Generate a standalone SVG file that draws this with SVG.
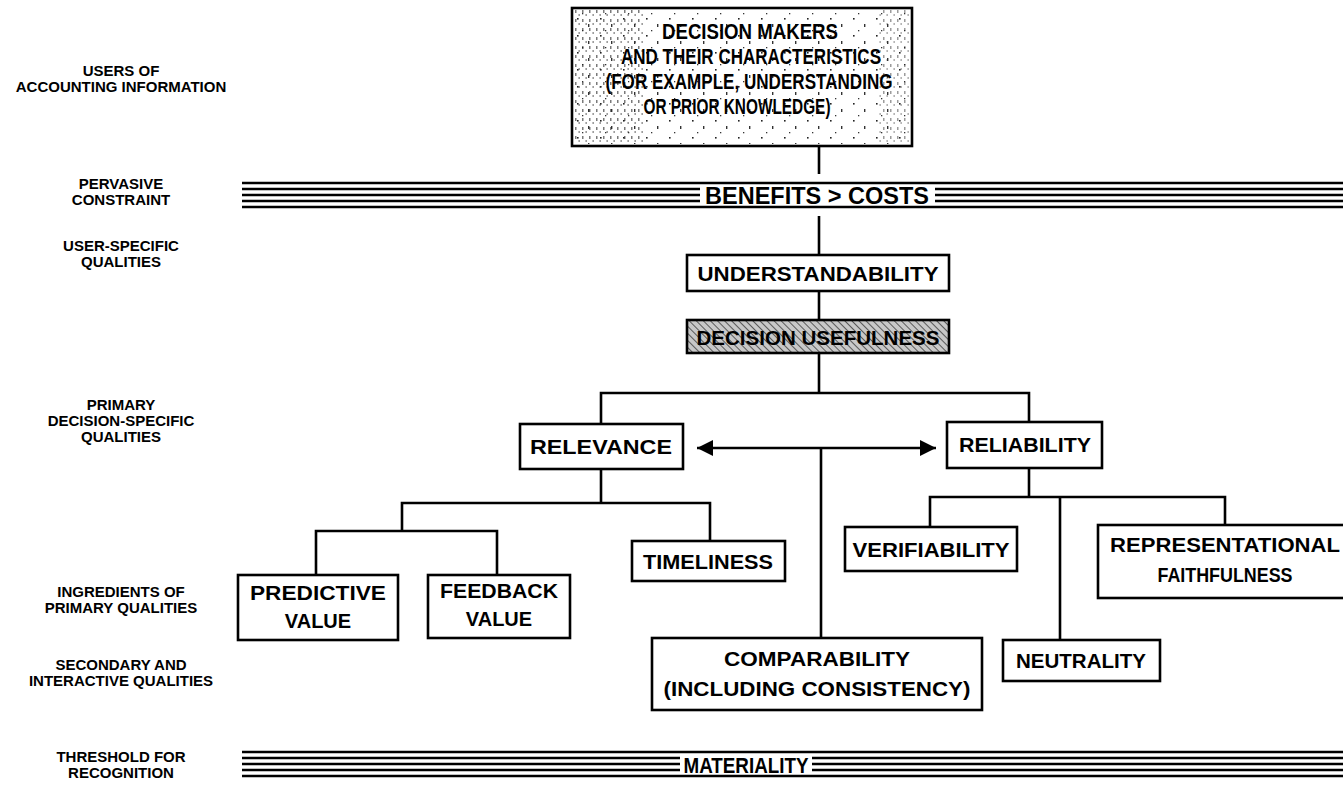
<svg xmlns="http://www.w3.org/2000/svg" width="1343" height="789" viewBox="0 0 1343 789">
<defs>
<pattern id="stip" width="23" height="17" patternUnits="userSpaceOnUse">
<rect x="2" y="1" width="1.6" height="1.6" fill="#222"/>
<rect x="13" y="7" width="1.4" height="3" fill="#333"/>
<rect x="7" y="13" width="1.3" height="1.3" fill="#333"/>
</pattern>
<pattern id="stipd" width="7" height="9" patternUnits="userSpaceOnUse">
<rect x="1" y="1" width="1.5" height="3" fill="#222"/>
<rect x="4.5" y="5" width="1.3" height="2" fill="#333"/>
</pattern>
<pattern id="hatch" width="5" height="5" patternUnits="userSpaceOnUse" patternTransform="rotate(-45)">
<rect width="5" height="5" fill="#c8c8c8"/>
<line x1="0" y1="0" x2="0" y2="5" stroke="#333" stroke-width="1.5"/>
</pattern>
<marker id="ah" viewBox="0 0 10 10" refX="10" refY="5" markerWidth="18" markerHeight="16" markerUnits="userSpaceOnUse" orient="auto-start-reverse">
<path d="M0,0 L10,5 L0,10 Z" fill="#000"/>
</marker>
</defs>
<style>
.box{fill:#fff;stroke:#000;stroke-width:2.6}
.t{font-family:"Liberation Sans",Arial,sans-serif;font-weight:bold;fill:#000;text-anchor:middle}
.bt{font-size:20px}
.tb{font-size:22px}
.lab{font-size:15px}
.ln{stroke:#000;stroke-width:2.6;fill:none}
.band{stroke:#000;stroke-width:2.4}
</style>
<rect width="1343" height="789" fill="#fff"/>

<g id="labels" class="t lab">
<text x="121" y="76">USERS OF</text>
<text x="121" y="92">ACCOUNTING INFORMATION</text>
<text x="121" y="189">PERVASIVE</text>
<text x="121" y="205">CONSTRAINT</text>
<text x="121" y="251">USER-SPECIFIC</text>
<text x="121" y="267">QUALITIES</text>
<text x="121" y="410">PRIMARY</text>
<text x="121" y="426">DECISION-SPECIFIC</text>
<text x="121" y="442">QUALITIES</text>
<text x="121" y="597">INGREDIENTS OF</text>
<text x="121" y="613">PRIMARY QUALITIES</text>
<text x="121" y="670">SECONDARY AND</text>
<text x="121" y="686">INTERACTIVE QUALITIES</text>
<text x="121" y="762">THRESHOLD FOR</text>
<text x="121" y="778">RECOGNITION</text>
</g>

<g id="connectors">
<line class="ln" x1="819" y1="146" x2="819" y2="174"/>
<line class="ln" x1="819" y1="216" x2="819" y2="255"/>
<line class="ln" x1="819" y1="291" x2="819" y2="320"/>
<polyline class="ln" points="601,424 601,393 1029,393 1029,422"/>
<line class="ln" x1="819" y1="353" x2="819" y2="393"/>
<line class="ln" x1="697" y1="448" x2="936" y2="448" marker-start="url(#ah)" marker-end="url(#ah)"/>
<line class="ln" x1="821" y1="448" x2="821" y2="638"/>
<line class="ln" x1="601" y1="469" x2="601" y2="503"/>
<polyline class="ln" points="402,531 402,503 710,503 710,541"/>
<polyline class="ln" points="316,575 316,531 497,531 497,575"/>
<line class="ln" x1="1029" y1="468" x2="1029" y2="497"/>
<polyline class="ln" points="930,527 930,497 1225,497 1225,525"/>
<line class="ln" x1="1060" y1="497" x2="1060" y2="640"/>
</g>

<g id="decision-makers">
<rect class="box" x="572" y="8" width="340" height="138"/>
<rect x="574" y="10" width="336" height="134" fill="url(#stip)"/>
<rect x="574" y="10" width="70" height="134" fill="url(#stipd)" opacity="0.6"/>
<rect x="878" y="10" width="32" height="134" fill="url(#stipd)" opacity="0.45"/>
<g class="t tb">
<text x="750" y="39" textLength="176" lengthAdjust="spacingAndGlyphs">DECISION MAKERS</text>
<text x="751" y="64" textLength="260" lengthAdjust="spacingAndGlyphs">AND THEIR CHARACTERISTICS</text>
<text x="749" y="89" textLength="287" lengthAdjust="spacingAndGlyphs">(FOR EXAMPLE, UNDERSTANDING</text>
<text x="737" y="114" textLength="187" lengthAdjust="spacingAndGlyphs">OR PRIOR KNOWLEDGE)</text>
</g>
</g>

<g id="benefits-costs">
<line class="band" x1="242" y1="183" x2="1343" y2="183"/>
<line class="band" x1="242" y1="189" x2="700" y2="189"/>
<line class="band" x1="242" y1="195" x2="700" y2="195"/>
<line class="band" x1="242" y1="201" x2="700" y2="201"/>
<line class="band" x1="935" y1="189" x2="1343" y2="189"/>
<line class="band" x1="935" y1="195" x2="1343" y2="195"/>
<line class="band" x1="935" y1="201" x2="1343" y2="201"/>
<line class="band" x1="242" y1="207" x2="1343" y2="207"/>
<text class="t" x="817" y="204" font-size="23" textLength="224" lengthAdjust="spacingAndGlyphs">BENEFITS &gt; COSTS</text>
</g>

<g id="understandability">
<rect class="box" x="687" y="255" width="262" height="36"/>
<text class="t bt" x="818" y="281" textLength="241" lengthAdjust="spacingAndGlyphs">UNDERSTANDABILITY</text>
</g>

<g id="decision-usefulness">
<rect x="687" y="320" width="262" height="33" fill="url(#hatch)" stroke="#000" stroke-width="2.6"/>
<text class="t bt" x="818" y="345" textLength="243" lengthAdjust="spacingAndGlyphs">DECISION USEFULNESS</text>
</g>

<g id="relevance">
<rect class="box" x="520" y="424" width="163" height="45"/>
<text class="t bt" x="601" y="454" textLength="142" lengthAdjust="spacingAndGlyphs">RELEVANCE</text>
</g>

<g id="reliability">
<rect class="box" x="947" y="422" width="155" height="46"/>
<text class="t bt" x="1025" y="452" textLength="132" lengthAdjust="spacingAndGlyphs">RELIABILITY</text>
</g>

<g id="predictive-value">
<rect class="box" x="238" y="575" width="160" height="65"/>
<text class="t bt" x="318" y="600" textLength="136" lengthAdjust="spacingAndGlyphs">PREDICTIVE</text>
<text class="t bt" x="318" y="628">VALUE</text>
</g>

<g id="feedback-value">
<rect class="box" x="428" y="575" width="142" height="63"/>
<text class="t bt" x="499" y="598" textLength="118" lengthAdjust="spacingAndGlyphs">FEEDBACK</text>
<text class="t bt" x="499" y="626">VALUE</text>
</g>

<g id="timeliness">
<rect class="box" x="632" y="541" width="153" height="40"/>
<text class="t bt" x="708" y="569" textLength="130" lengthAdjust="spacingAndGlyphs">TIMELINESS</text>
</g>

<g id="verifiability">
<rect class="box" x="845" y="527" width="172" height="44"/>
<text class="t bt" x="931" y="557" textLength="157" lengthAdjust="spacingAndGlyphs">VERIFIABILITY</text>
</g>

<g id="representational-faithfulness">
<rect class="box" x="1098" y="525" width="252" height="73"/>
<text class="t bt" x="1225" y="552" textLength="230" lengthAdjust="spacingAndGlyphs">REPRESENTATIONAL</text>
<text class="t bt" x="1225" y="582" textLength="135" lengthAdjust="spacingAndGlyphs">FAITHFULNESS</text>
</g>

<g id="comparability">
<rect class="box" x="652" y="638" width="330" height="72"/>
<text class="t bt" x="817" y="666" textLength="186" lengthAdjust="spacingAndGlyphs">COMPARABILITY</text>
<text class="t bt" x="817" y="696" textLength="307" lengthAdjust="spacingAndGlyphs">(INCLUDING CONSISTENCY)</text>
</g>

<g id="neutrality">
<rect class="box" x="1003" y="640" width="157" height="41"/>
<text class="t bt" x="1081" y="668" textLength="130" lengthAdjust="spacingAndGlyphs">NEUTRALITY</text>
</g>

<g id="materiality">
<line class="band" x1="242" y1="752" x2="1343" y2="752"/>
<line class="band" x1="242" y1="758" x2="680" y2="758"/>
<line class="band" x1="242" y1="764" x2="680" y2="764"/>
<line class="band" x1="242" y1="770" x2="680" y2="770"/>
<line class="band" x1="812" y1="758" x2="1343" y2="758"/>
<line class="band" x1="812" y1="764" x2="1343" y2="764"/>
<line class="band" x1="812" y1="770" x2="1343" y2="770"/>
<line class="band" x1="242" y1="776" x2="1343" y2="776"/>
<text class="t" x="746" y="773" font-size="22" textLength="125" lengthAdjust="spacingAndGlyphs">MATERIALITY</text>
</g>
</svg>
